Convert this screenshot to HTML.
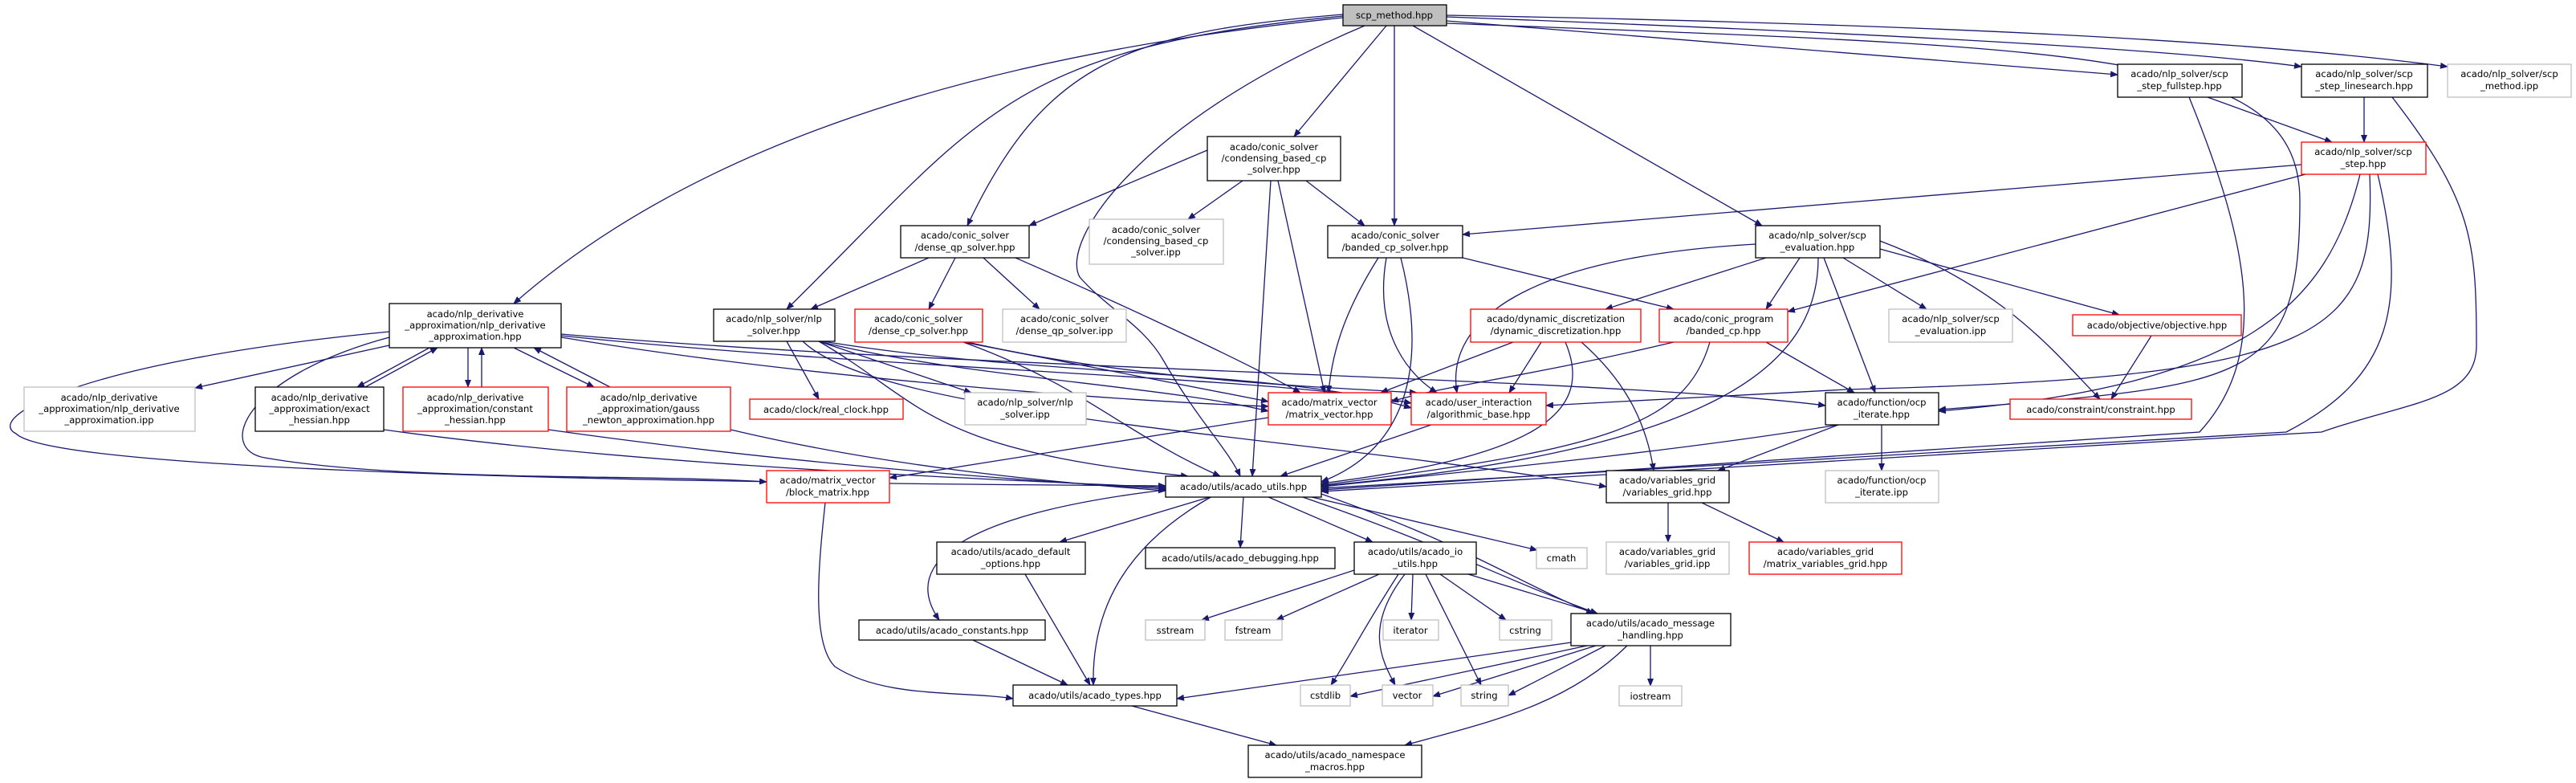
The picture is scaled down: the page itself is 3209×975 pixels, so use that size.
<!DOCTYPE html>
<html><head><meta charset="utf-8"><style>
html,body{margin:0;padding:0;background:#fff;}
svg{display:block;}
text{font-family:"DejaVu Sans","Liberation Sans",sans-serif;font-size:11.6px;fill:#000;}
.e{fill:none;stroke:#191970;stroke-width:1.3;marker-end:url(#a);}
.b{fill:#fff;stroke:#000;stroke-width:1.3;}
.r{fill:#fff;stroke:#ff0000;stroke-width:1.3;}
.g{fill:#fff;stroke:#bfbfbf;stroke-width:1.3;}
</style></head><body>
<svg width="3209" height="975" viewBox="0 0 3209 975" xmlns="http://www.w3.org/2000/svg">
<defs><marker id="a" markerWidth="10" markerHeight="8" refX="9" refY="4" orient="auto" markerUnits="userSpaceOnUse"><path d="M0,0 L10,4 L0,8 Z" fill="#191970"/></marker></defs>
<g>
<path class="e" d="M1673,22 C1300,60 900,150 640,378"/>
<path class="e" d="M1673,20 C1250,60 1220,150 980,385"/>
<path class="e" d="M1673,18 C1400,40 1300,80 1205,281"/>
<path class="e" d="M1700,32 C1420,150 1320,300 1345,345 C1380,385 1425,405 1450,450 C1490,520 1530,560 1545,593"/>
<path class="e" d="M1727,32 L1612,170"/>
<path class="e" d="M1737,32 L1737,281"/>
<path class="e" d="M1760,32 L2195,281"/>
<path class="e" d="M1802,26 L2638,93"/>
<path class="e" d="M1802,21 C2300,40 2700,60 2867,83"/>
<path class="e" d="M1802,19 C2400,30 2800,50 3049,83"/>
<path class="e" d="M1802,29 C2600,60 2865,60 2865,250 C2865,480 2800,480 2415,510"/>
<path class="e" d="M1504,187 L1282,281"/>
<path class="e" d="M1548,225 L1480,273"/>
<path class="e" d="M1627,225 L1700,281"/>
<path class="e" d="M1583,225 L1560,593"/>
<path class="e" d="M1592,225 L1650,489"/>
<path class="e" d="M1157,321 L1010,385"/>
<path class="e" d="M1190,321 L1157,385"/>
<path class="e" d="M1225,321 L1295,385"/>
<path class="e" d="M1265,321 C1400,380 1550,450 1620,489"/>
<path class="e" d="M1717,321 C1680,380 1660,430 1655,489"/>
<path class="e" d="M1727,321 C1710,420 1760,470 1790,489"/>
<path class="e" d="M1745,321 C1780,460 1750,560 1646,600"/>
<path class="e" d="M1822,321 L2085,385"/>
<path class="e" d="M2200,321 L2000,385"/>
<path class="e" d="M2242,321 L2200,385"/>
<path class="e" d="M2296,321 L2400,385"/>
<path class="e" d="M2342,310 L2640,392"/>
<path class="e" d="M2342,300 C2500,360 2560,440 2616,497"/>
<path class="e" d="M2272,321 L2336,489"/>
<path class="e" d="M2265,321 C2265,450 2150,560 1646,605"/>
<path class="e" d="M2187,304 C1900,320 1800,400 1815,489"/>
<path class="e" d="M2750,121 L2905,177"/>
<path class="e" d="M2727,121 C2800,300 2830,440 2740,538 L1646,610"/>
<path class="e" d="M2945,121 L2945,177"/>
<path class="e" d="M2980,121 C3080,250 3085,300 3085,430 C3085,500 3000,500 2892,538 L1646,612"/>
<path class="e" d="M2867,205 L1822,292"/>
<path class="e" d="M2872,217 L2227,388"/>
<path class="e" d="M2940,217 C2900,380 2800,480 2415,512"/>
<path class="e" d="M2952,217 C2960,420 2900,470 2300,485 L1926,505"/>
<path class="e" d="M2962,217 C3000,380 2980,470 2848,538 L1646,608"/>
<path class="e" d="M485,430 L243,483"/>
<path class="e" d="M535,433 L445,482"/>
<path class="e" d="M455,482 L545,433"/>
<path class="e" d="M583,433 L583,482"/>
<path class="e" d="M600,482 L600,433"/>
<path class="e" d="M640,433 L740,482"/>
<path class="e" d="M760,482 L665,433"/>
<path class="e" d="M485,413 C100,450 -20,520 20,540 C60,580 600,600 1452,605"/>
<path class="e" d="M485,420 C300,470 270,560 330,570 C500,600 800,590 955,600"/>
<path class="e" d="M699,420 C1000,470 1400,500 1580,506"/>
<path class="e" d="M699,418 C1100,460 1600,470 1758,502"/>
<path class="e" d="M699,416 C1200,460 2000,470 2274,505"/>
<path class="e" d="M478,535 C800,580 1200,595 1452,607"/>
<path class="e" d="M683,535 C1000,580 1300,600 1452,609"/>
<path class="e" d="M910,535 C1100,580 1300,600 1452,611"/>
<path class="e" d="M980,425 L1020,497"/>
<path class="e" d="M1020,425 L1210,489"/>
<path class="e" d="M1020,425 C1200,470 1450,480 1580,512"/>
<path class="e" d="M1025,425 C1300,470 1600,460 1758,508"/>
<path class="e" d="M1020,425 C1150,500 1150,560 1480,593"/>
<path class="e" d="M1000,425 C1100,520 1600,540 2001,606"/>
<path class="e" d="M1200,426 L1580,500"/>
<path class="e" d="M1205,426 C1400,470 1600,480 1765,489"/>
<path class="e" d="M1200,426 C1350,480 1400,540 1520,593"/>
<path class="e" d="M1885,426 L1720,489"/>
<path class="e" d="M1920,426 L1880,489"/>
<path class="e" d="M1950,426 C1990,520 1900,570 1646,602"/>
<path class="e" d="M1970,426 C2020,470 2050,520 2060,586"/>
<path class="e" d="M2085,426 C1900,470 1800,480 1733,500"/>
<path class="e" d="M2130,426 C2100,530 2000,560 1646,604"/>
<path class="e" d="M2200,426 L2310,489"/>
<path class="e" d="M2680,418 L2630,497"/>
<path class="e" d="M2290,529 C2100,560 1900,580 1646,606"/>
<path class="e" d="M2290,529 L2140,586"/>
<path class="e" d="M2344,529 L2344,586"/>
<path class="e" d="M1580,520 L1108,595"/>
<path class="e" d="M1783,529 L1595,593"/>
<path class="e" d="M1028,626 C1020,700 1010,800 1040,830 C1100,870 1200,860 1262,870"/>
<path class="e" d="M2078,626 L2078,675"/>
<path class="e" d="M2120,626 L2222,675"/>
<path class="e" d="M1510,618 L1320,675"/>
<path class="e" d="M1549,618 L1545,682"/>
<path class="e" d="M1578,618 L1710,675"/>
<path class="e" d="M1630,618 L1915,685"/>
<path class="e" d="M1452,610 C1200,640 1120,700 1170,772"/>
<path class="e" d="M1510,618 C1400,680 1360,760 1362,853"/>
<path class="e" d="M1620,618 C1800,680 1870,720 1990,764"/>
<path class="e" d="M1646,615 C1830,680 1880,720 1985,764"/>
<path class="e" d="M1277,715 L1358,853"/>
<path class="e" d="M1212,797 L1330,853"/>
<path class="e" d="M1687,710 L1497,772"/>
<path class="e" d="M1718,715 L1590,772"/>
<path class="e" d="M1742,715 C1700,780 1680,820 1658,853"/>
<path class="e" d="M1750,715 C1700,780 1720,820 1738,853"/>
<path class="e" d="M1760,715 L1758,772"/>
<path class="e" d="M1776,715 L1845,853"/>
<path class="e" d="M1794,715 L1876,772"/>
<path class="e" d="M1829,715 L1990,764"/>
<path class="e" d="M1957,800 L1466,870"/>
<path class="e" d="M1977,804 L1682,867"/>
<path class="e" d="M1988,804 L1785,867"/>
<path class="e" d="M2000,804 L1879,866"/>
<path class="e" d="M2056,804 L2056,854"/>
<path class="e" d="M2027,804 C1950,880 1850,900 1750,928"/>
<path class="e" d="M1410,879 L1590,928"/>
</g>
<g text-anchor="middle">
<rect x="1673" y="6" width="129" height="26" fill="#bfbfbf" stroke="#000" stroke-width="1.3"/><text x="1737" y="23">scp_method.hpp</text>

<rect class="b" x="1504" y="170" width="166" height="55"/><text x="1587" y="187">acado/conic_solver</text><text x="1587" y="201">/condensing_based_cp</text><text x="1587" y="215">_solver.hpp</text>
<rect class="g" x="1357" y="273" width="167" height="56"/><text x="1440" y="290">acado/conic_solver</text><text x="1440" y="304">/condensing_based_cp</text><text x="1440" y="318">_solver.ipp</text>
<rect class="b" x="1122" y="281" width="160" height="40"/><text x="1202" y="297">acado/conic_solver</text><text x="1202" y="312">/dense_qp_solver.hpp</text>
<rect class="b" x="1654" y="281" width="168" height="40"/><text x="1738" y="297">acado/conic_solver</text><text x="1738" y="312">/banded_cp_solver.hpp</text>
<rect class="b" x="2187" y="281" width="155" height="40"/><text x="2264" y="297">acado/nlp_solver/scp</text><text x="2264" y="312">_evaluation.hpp</text>
<rect class="b" x="2638" y="80" width="155" height="41"/><text x="2715" y="96">acado/nlp_solver/scp</text><text x="2715" y="111">_step_fullstep.hpp</text>
<rect class="b" x="2867" y="80" width="157" height="41"/><text x="2945" y="96">acado/nlp_solver/scp</text><text x="2945" y="111">_step_linesearch.hpp</text>
<rect class="g" x="3049" y="80" width="154" height="41"/><text x="3126" y="96">acado/nlp_solver/scp</text><text x="3126" y="111">_method.ipp</text>
<rect class="r" x="2867" y="177" width="155" height="40"/><text x="2944" y="193">acado/nlp_solver/scp</text><text x="2944" y="208">_step.hpp</text>

<rect class="b" x="485" y="378" width="214" height="55"/><text x="592" y="395">acado/nlp_derivative</text><text x="592" y="409">_approximation/nlp_derivative</text><text x="592" y="423">_approximation.hpp</text>
<rect class="b" x="889" y="385" width="151" height="40"/><text x="964" y="401">acado/nlp_solver/nlp</text><text x="964" y="416">_solver.hpp</text>
<rect class="r" x="1065" y="385" width="159" height="41"/><text x="1144" y="401">acado/conic_solver</text><text x="1144" y="416">/dense_cp_solver.hpp</text>
<rect class="g" x="1249" y="385" width="154" height="41"/><text x="1326" y="401">acado/conic_solver</text><text x="1326" y="416">/dense_qp_solver.ipp</text>
<rect class="r" x="1832" y="385" width="212" height="41"/><text x="1938" y="401">acado/dynamic_discretization</text><text x="1938" y="416">/dynamic_discretization.hpp</text>
<rect class="r" x="2067" y="385" width="160" height="41"/><text x="2147" y="401">acado/conic_program</text><text x="2147" y="416">/banded_cp.hpp</text>
<rect class="g" x="2353" y="385" width="154" height="41"/><text x="2430" y="401">acado/nlp_solver/scp</text><text x="2430" y="416">_evaluation.ipp</text>
<rect class="r" x="2582" y="392" width="210" height="26"/><text x="2687" y="409">acado/objective/objective.hpp</text>

<rect class="g" x="30" y="482" width="213" height="55"/><text x="136" y="499">acado/nlp_derivative</text><text x="136" y="513">_approximation/nlp_derivative</text><text x="136" y="527">_approximation.ipp</text>
<rect class="b" x="318" y="482" width="160" height="55"/><text x="398" y="499">acado/nlp_derivative</text><text x="398" y="513">_approximation/exact</text><text x="398" y="527">_hessian.hpp</text>
<rect class="r" x="502" y="482" width="181" height="55"/><text x="592" y="499">acado/nlp_derivative</text><text x="592" y="513">_approximation/constant</text><text x="592" y="527">_hessian.hpp</text>
<rect class="r" x="706" y="482" width="204" height="55"/><text x="808" y="499">acado/nlp_derivative</text><text x="808" y="513">_approximation/gauss</text><text x="808" y="527">_newton_approximation.hpp</text>
<rect class="r" x="934" y="497" width="191" height="25"/><text x="1029" y="514">acado/clock/real_clock.hpp</text>
<rect class="g" x="1202" y="489" width="151" height="40"/><text x="1277" y="505">acado/nlp_solver/nlp</text><text x="1277" y="520">_solver.ipp</text>
<rect class="r" x="1580" y="489" width="153" height="40"/><text x="1656" y="505">acado/matrix_vector</text><text x="1656" y="520">/matrix_vector.hpp</text>
<rect class="r" x="1758" y="489" width="168" height="40"/><text x="1842" y="505">acado/user_interaction</text><text x="1842" y="520">/algorithmic_base.hpp</text>
<rect class="b" x="2274" y="489" width="141" height="40"/><text x="2344" y="505">acado/function/ocp</text><text x="2344" y="520">_iterate.hpp</text>
<rect class="r" x="2504" y="497" width="226" height="25"/><text x="2617" y="514">acado/constraint/constraint.hpp</text>

<rect class="r" x="955" y="586" width="153" height="40"/><text x="1031" y="602">acado/matrix_vector</text><text x="1031" y="617">/block_matrix.hpp</text>
<rect class="b" x="1452" y="593" width="194" height="26"/><text x="1549" y="610">acado/utils/acado_utils.hpp</text>
<rect class="b" x="2001" y="586" width="153" height="40"/><text x="2077" y="602">acado/variables_grid</text><text x="2077" y="617">/variables_grid.hpp</text>
<rect class="g" x="2274" y="586" width="141" height="40"/><text x="2344" y="602">acado/function/ocp</text><text x="2344" y="617">_iterate.ipp</text>

<rect class="b" x="1167" y="675" width="185" height="40"/><text x="1259" y="691">acado/utils/acado_default</text><text x="1259" y="706">_options.hpp</text>
<rect class="b" x="1427" y="682" width="236" height="26"/><text x="1545" y="699">acado/utils/acado_debugging.hpp</text>
<rect class="b" x="1687" y="675" width="152" height="40"/><text x="1763" y="691">acado/utils/acado_io</text><text x="1763" y="706">_utils.hpp</text>
<rect class="g" x="1914" y="682" width="63" height="26"/><text x="1945" y="699">cmath</text>
<rect class="g" x="2001" y="675" width="153" height="40"/><text x="2077" y="691">acado/variables_grid</text><text x="2077" y="706">/variables_grid.ipp</text>
<rect class="r" x="2179" y="675" width="190" height="40"/><text x="2274" y="691">acado/variables_grid</text><text x="2274" y="706">/matrix_variables_grid.hpp</text>

<rect class="b" x="1070" y="772" width="232" height="25"/><text x="1186" y="789">acado/utils/acado_constants.hpp</text>
<rect class="g" x="1427" y="772" width="74" height="25"/><text x="1464" y="789">sstream</text>
<rect class="g" x="1526" y="772" width="71" height="25"/><text x="1561" y="789">fstream</text>
<rect class="g" x="1723" y="772" width="69" height="25"/><text x="1757" y="789">iterator</text>
<rect class="g" x="1868" y="772" width="65" height="25"/><text x="1900" y="789">cstring</text>
<rect class="b" x="1957" y="764" width="199" height="40"/><text x="2056" y="780">acado/utils/acado_message</text><text x="2056" y="795">_handling.hpp</text>

<rect class="b" x="1262" y="853" width="204" height="26"/><text x="1364" y="870">acado/utils/acado_types.hpp</text>
<rect class="g" x="1620" y="853" width="62" height="26"/><text x="1651" y="870">cstdlib</text>
<rect class="g" x="1722" y="853" width="63" height="26"/><text x="1753" y="870">vector</text>
<rect class="g" x="1820" y="853" width="59" height="26"/><text x="1849" y="870">string</text>
<rect class="g" x="2017" y="854" width="78" height="25"/><text x="2056" y="871">iostream</text>
<rect class="b" x="1555" y="928" width="216" height="40"/><text x="1663" y="944">acado/utils/acado_namespace</text><text x="1663" y="959">_macros.hpp</text>
</g>
</svg>
</body></html>
